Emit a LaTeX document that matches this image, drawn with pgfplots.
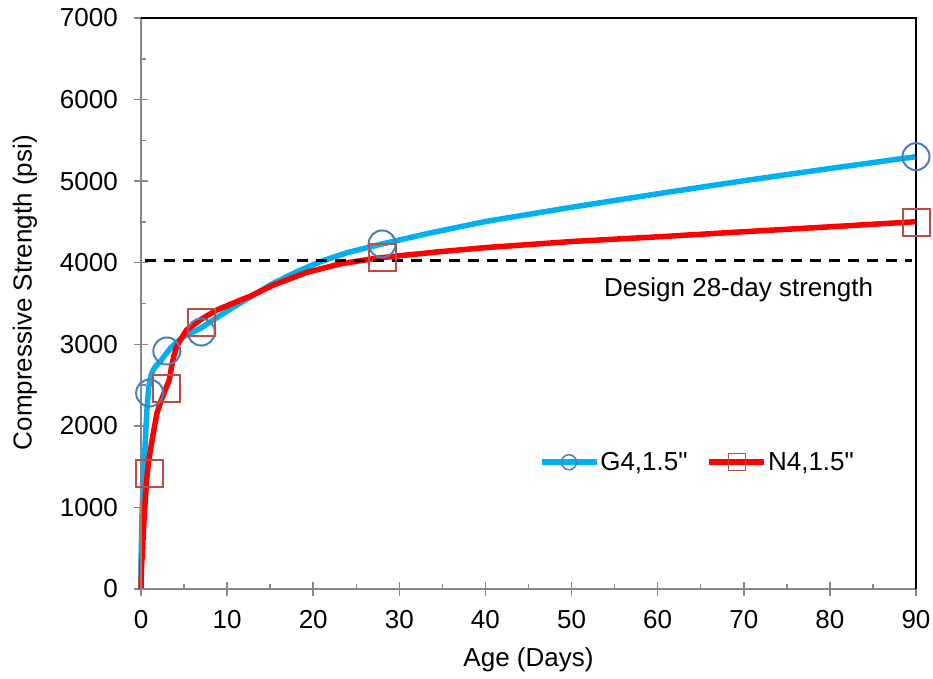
\documentclass[border=0pt]{standalone}
\usepackage{fontspec}
\setmainfont{Liberation Sans}
\usepackage{pgfplots}
\pgfplotsset{compat=1.18}
\definecolor{gblue}{HTML}{00B0F0}
\definecolor{nred}{HTML}{FF0000}
\definecolor{mblue}{HTML}{4A7EBB}
\definecolor{mred}{HTML}{BE4B48}
\definecolor{axgray}{HTML}{868686}
\begin{document}
\begin{tikzpicture}
\useasboundingbox (-141pt,-90pt) rectangle (792pt,589pt);
\begin{axis}[
  width=775pt, height=571pt, scale only axis,
  xmin=0, xmax=90, ymin=0, ymax=7000,
  xtick={0,10,...,90}, ytick={0,1000,...,7000},
  minor x tick num=1, minor y tick num=1,
  xtick pos=bottom, ytick pos=left,
  tick align=center,
  major tick length=14pt, minor tick length=5pt,
  minor x tick style={yshift=2.5pt}, minor y tick style={xshift=2.5pt},
  tick style={axgray, line width=1.5pt},
  axis line style={draw=none},
  font=\fontsize{26}{31}\selectfont,
  tick label style={font=\fontsize{26}{31}\selectfont},
  /pgf/number format/assume math mode=true,
  /pgf/number format/1000 sep={},
  xticklabel style={anchor=north, inner sep=0pt, yshift=-14pt},
  yticklabel style={anchor=east, inner sep=0pt, xshift=-16pt},
  clip=false,
  legend columns=-1,
  legend style={at={(rel axis cs:0.513,0.222)}, anchor=west, draw=none, fill=none,
    font=\fontsize{26}{31}\selectfont, inner sep=0pt, nodes={inner sep=0pt},
    /tikz/every even column/.append style={column sep=19pt},
    /tikz/every odd column/.append style={column sep=1pt}},
]
% fitted curves
\addplot[gblue, line width=5.5pt, forget plot] coordinates {
(0,0) (0.03,450) (0.12,930) (0.25,1250) (0.38,1540) (0.5,1800) (0.66,2150)
(0.8,2360) (0.9,2470) (1.05,2565) (1.2,2630) (1.45,2690) (1.7,2730) (2.2,2785) (3.0,2895)
(3.4,2950) (4.2,3030) (4.9,3090) (6,3150) (7,3200) (8,3270) (9,3340)
(10.5,3440) (12.7,3580) (15,3727) (18,3885) (21,4020) (24,4125)
(28,4230) (33.6,4365) (40,4505) (50,4680) (60,4845) (70,5005) (80,5155) (90,5300)};
\addplot[nred, line width=5.5pt, forget plot] coordinates {
(0,0) (0.05,250) (0.19,520) (0.39,930) (0.66,1336) (0.9,1580) (1.16,1745)
(1.5,1950) (1.85,2154) (2.3,2300) (2.97,2480) (3.29,2562) (3.55,2725)
(3.8,2850) (4.13,2970) (4.6,3060) (5.3,3175) (6.85,3298) (8.8,3420)
(11.5,3540) (12.7,3590) (15.4,3727) (19.2,3880) (23.1,3985) (27,4050)
(30,4085) (34.7,4135) (40,4185) (50,4260) (60.3,4319) (70,4380) (80,4440) (90,4503)};
% data points
\addplot[only marks, mark=o, mark size=13.5pt, mark options={draw=mblue, line width=2pt},
  legend image code/.code={
    \draw[gblue, line width=5.5pt] (0pt,0pt) -- (55pt,0pt);
    \draw[mblue, line width=1.5pt] (27.5pt,0pt) circle (7.5pt);}]
  coordinates {(1,2403) (3,2918) (7,3150) (28,4230) (90,5300)};
\addlegendentry{G4,1.5\textquotedbl}
\addplot[only marks, mark=square, mark size=13.5pt, mark options={draw=mred, line width=2pt},
  legend image code/.code={
    \draw[nred, line width=5.5pt] (0pt,0pt) -- (55pt,0pt);
    \draw[mred, line width=1.5pt] (19pt,-8.5pt) rectangle (36pt,8.5pt);}]
  coordinates {(1,1422) (3,2464) (7,3265) (28,4062) (90,4496)};
\addlegendentry{N4,1.5\textquotedbl}
% design strength
\addplot[black, line width=2.5pt, dash pattern=on 11pt off 8pt, forget plot]
  coordinates {(0.5,4030) (89.5,4030)};
\node at (axis cs:69.4,3665) {Design 28-day strength};
% axis lines
\draw[axgray, line width=2pt] (rel axis cs:0,1) -- (rel axis cs:0,0) -- (rel axis cs:1,0);
\draw[black, line width=2pt] (rel axis cs:0,1) -- (rel axis cs:1,1) -- (rel axis cs:1,0);
% axis labels
\node[rotate=90, inner sep=0pt] at ([xshift=-116pt]rel axis cs:0,0.519) {Compressive Strength (psi)};
\node[anchor=north, inner sep=0pt] at ([yshift=-58pt]rel axis cs:0.5,0) {Age (Days)};
\end{axis}
\end{tikzpicture}
\end{document}
